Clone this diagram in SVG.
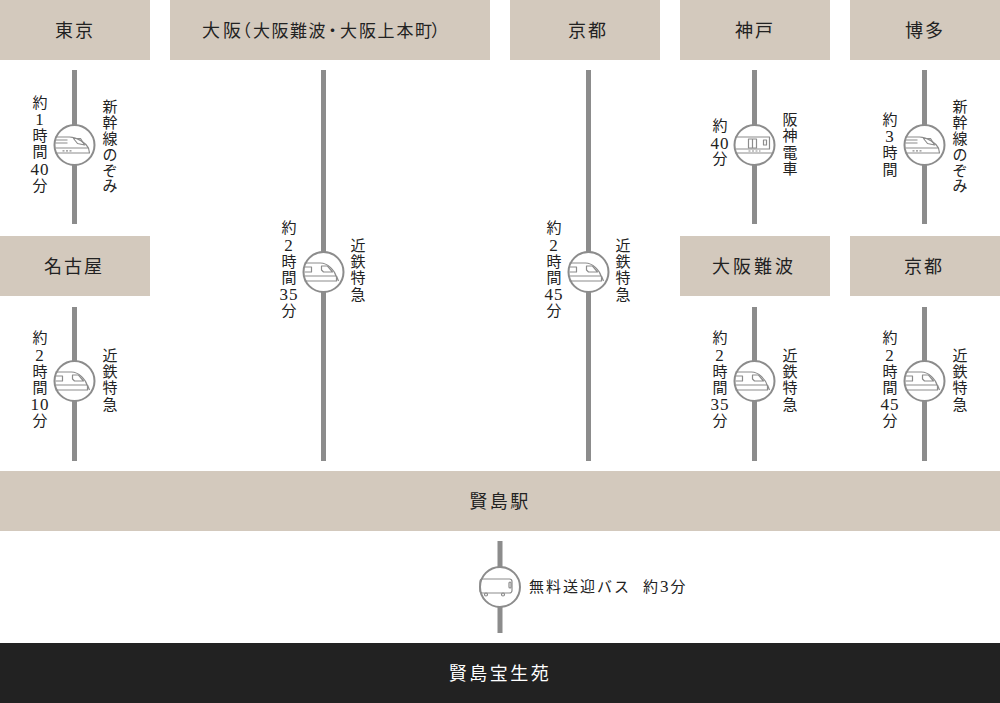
<svg xmlns="http://www.w3.org/2000/svg" width="1000" height="703" viewBox="0 0 1000 703">
<style>
text{font-family:"Liberation Serif","Noto Sans CJK JP",serif;fill:#222;font-weight:400}
.h{font-size:18px;text-anchor:middle;letter-spacing:2px}
.v{font-size:15px;text-anchor:middle}
.d{font-size:17px;letter-spacing:1px}
.b{fill:#d3c9bd}
.l{stroke:#8c8c8c;stroke-width:5;fill:none}
.c{fill:#fff;stroke:#8c8c8c;stroke-width:2}
.i{fill:none;stroke:#8c8c8c;stroke-width:1.2;stroke-linejoin:round}
</style>
<defs>
<g id="shink" class="i"><circle class="c" r="20"/><path d="M-19-8H-5C3-8 11-2 14 3L15 8H-19M-19 3H14M-19-5H-7M-19-2H-7"/><path d="M-1-6.500H6L10 0L3-1.500Z"/><path d="M-12 5.800H-2" stroke-dasharray="2 1.500"/></g>
<g id="kin" class="i"><circle class="c" r="20"/><path d="M-19-9H-3C4-9 11-2 13 5V9H-19M-19 4H13L15 9"/><path d="M-19-5H-12V0H-19M-2-6H4L9 0H0L-2-2Z"/></g>
<g id="den" class="i"><circle class="c" r="20"/><path d="M-19-8H15V4H-19M-19 8H18"/><path d="M-6-6H2V3H-6ZM-2-6V3M9-5H12V0H9Z"/><path d="M-6 6H6" stroke-dasharray="2 1.500"/></g>
<g id="bus" class="i"><circle class="c" r="20"/><rect x="-20" y="-8" width="32" height="14" rx="2.500"/><rect x="9" y="-5" width="2" height="6" rx="1"/><circle cx="-14" cy="7.500" r="1.500"/><circle cx="3" cy="7.500" r="1.500"/></g>
</defs>
<g id="connectors">
<path class="l" d="M74.500 70V224M74.500 307V461M323.500 70V461M588.500 70V461M754.500 70V224M754.500 307V461M924.500 70V224M924.500 307V461M500 541V633"/>
</g>
<g id="tokyo"><rect class="b" width="150" height="60"/><text class="h" x="75" y="37">東京</text></g>
<g id="osaka"><rect class="b" x="170" width="320" height="60"/><text style="font-size:18px" y="37"><tspan x="202 223">大阪</tspan><tspan style="font-size:17px" x="234 253 271.500 290 308.500 324 340 359 377.500 396.500 415 431">（大阪難波・大阪上本町）</tspan></text></g>
<g id="kyoto"><rect class="b" x="510" width="150" height="60"/><text class="h" x="588" y="37">京都</text></g>
<g id="kobe"><rect class="b" x="680" width="150" height="60"/><text class="h" x="755" y="37">神戸</text></g>
<g id="hakata"><rect class="b" x="850" width="150" height="60"/><text class="h" x="925" y="37">博多</text></g>
<g id="nagoya"><rect class="b" y="236" width="150" height="60"/><text class="h" x="74" y="273">名古屋</text></g>
<g id="namba"><rect class="b" x="680" y="236" width="150" height="60"/><text class="h" x="754" y="273" style="letter-spacing:3px">大阪難波</text></g>
<g id="kyoto2"><rect class="b" x="850" y="236" width="150" height="60"/><text class="h" x="924" y="273">京都</text></g>
<g id="kashikojima"><rect class="b" y="471" width="1000" height="60"/><text class="h" x="500" y="508" style="letter-spacing:2.500px">賢島駅</text></g>
<g id="resort"><rect fill="#222" y="643" width="1000" height="60"/><text class="h" x="500" y="680" style="fill:#fff;letter-spacing:2.500px">賢島宝生苑</text></g>

<g id="r1"><use href="#shink" x="74.500" y="145"/>
<text class="v"><tspan x="40" y="108">約</tspan><tspan class="d" x="40" y="125">1</tspan><tspan x="40" y="141">時</tspan><tspan x="40" y="157">間</tspan><tspan class="d" x="40" y="175">40</tspan><tspan x="40" y="191">分</tspan></text>
<text class="v"><tspan x="110" y="112">新</tspan><tspan x="110" y="128">幹</tspan><tspan x="110" y="144">線</tspan><tspan x="110" y="160">の</tspan><tspan x="110" y="176">ぞ</tspan><tspan x="110" y="191">み</tspan></text></g>
<g id="r2"><use href="#kin" x="74.500" y="381"/>
<text class="v"><tspan x="40" y="343">約</tspan><tspan class="d" x="40" y="361">2</tspan><tspan x="40" y="377">時</tspan><tspan x="40" y="393">間</tspan><tspan class="d" x="40" y="410">10</tspan><tspan x="40" y="426">分</tspan></text>
<text class="v"><tspan x="110" y="361">近</tspan><tspan x="110" y="377">鉄</tspan><tspan x="110" y="393">特</tspan><tspan x="110" y="410">急</tspan></text></g>
<g id="r3"><use href="#kin" x="323.500" y="272"/>
<text class="v"><tspan x="289" y="233">約</tspan><tspan class="d" x="289" y="251">2</tspan><tspan x="289" y="267">時</tspan><tspan x="289" y="283">間</tspan><tspan class="d" x="289" y="300">35</tspan><tspan x="289" y="316">分</tspan></text>
<text class="v"><tspan x="358" y="251">近</tspan><tspan x="358" y="267">鉄</tspan><tspan x="358" y="283">特</tspan><tspan x="358" y="300">急</tspan></text></g>
<g id="r4"><use href="#kin" x="588.500" y="272"/>
<text class="v"><tspan x="554" y="233">約</tspan><tspan class="d" x="554" y="251">2</tspan><tspan x="554" y="267">時</tspan><tspan x="554" y="283">間</tspan><tspan class="d" x="554" y="300">45</tspan><tspan x="554" y="316">分</tspan></text>
<text class="v"><tspan x="623" y="251">近</tspan><tspan x="623" y="267">鉄</tspan><tspan x="623" y="283">特</tspan><tspan x="623" y="300">急</tspan></text></g>
<g id="r5"><use href="#den" x="754.500" y="145"/>
<text class="v"><tspan x="720" y="131">約</tspan><tspan class="d" x="720" y="149">40</tspan><tspan x="720" y="164">分</tspan></text>
<text class="v"><tspan x="790" y="125">阪</tspan><tspan x="790" y="141">神</tspan><tspan x="790" y="158">電</tspan><tspan x="790" y="174">車</tspan></text></g>
<g id="r6"><use href="#kin" x="754.500" y="381"/>
<text class="v"><tspan x="720" y="343">約</tspan><tspan class="d" x="720" y="361">2</tspan><tspan x="720" y="377">時</tspan><tspan x="720" y="393">間</tspan><tspan class="d" x="720" y="410">35</tspan><tspan x="720" y="426">分</tspan></text>
<text class="v"><tspan x="790" y="361">近</tspan><tspan x="790" y="377">鉄</tspan><tspan x="790" y="393">特</tspan><tspan x="790" y="410">急</tspan></text></g>
<g id="r7"><use href="#shink" x="924.500" y="145"/>
<text class="v"><tspan x="890" y="125">約</tspan><tspan class="d" x="890" y="142">3</tspan><tspan x="890" y="158">時</tspan><tspan x="890" y="175">間</tspan></text>
<text class="v"><tspan x="960" y="112">新</tspan><tspan x="960" y="128">幹</tspan><tspan x="960" y="144">線</tspan><tspan x="960" y="160">の</tspan><tspan x="960" y="176">ぞ</tspan><tspan x="960" y="191">み</tspan></text></g>
<g id="r8"><use href="#kin" x="924.500" y="381"/>
<text class="v"><tspan x="890" y="343">約</tspan><tspan class="d" x="890" y="361">2</tspan><tspan x="890" y="377">時</tspan><tspan x="890" y="393">間</tspan><tspan class="d" x="890" y="410">45</tspan><tspan x="890" y="426">分</tspan></text>
<text class="v"><tspan x="960" y="361">近</tspan><tspan x="960" y="377">鉄</tspan><tspan x="960" y="393">特</tspan><tspan x="960" y="410">急</tspan></text></g>
<g id="r9"><use href="#bus" x="500" y="587"/>
<text x="529" y="592" style="font-size:15px;letter-spacing:2px">無料送迎バス<tspan x="643">約</tspan><tspan style="font-size:17px">3</tspan>分</text></g>
</svg>
